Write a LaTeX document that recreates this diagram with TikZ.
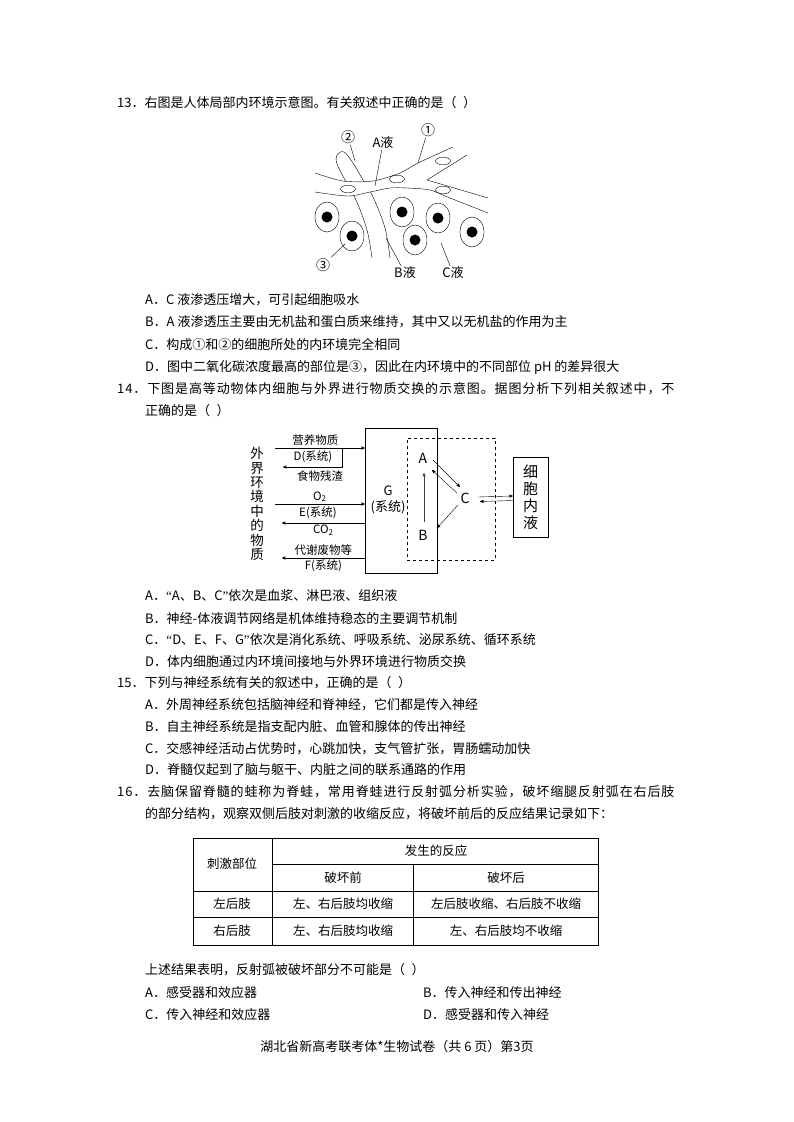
\documentclass[tikz,border=0pt]{standalone}
\usepackage{fontspec}
\setmainfont{Noto Sans CJK SC}
\newfontfamily\latq{Liberation Serif}
\usetikzlibrary{arrows,positioning}
\newcommand{\openq}{{\latq “}}
\newcommand{\closeq}{{\latq ”}}
\newcommand{\blank}{（\hspace{0.5em}）}
\tikzset{>=stealth',line width=0.9pt}
\tikzset{
  line/.style={anchor=west,inner sep=0pt,font=\fontsize{13}{15}\selectfont},
  fullline/.style={line,font=\fontsize{13}{15}\selectfont\addfontfeatures{LetterSpace=6.9}},
  lbl/.style={inner sep=1pt,font=\fontsize{13}{15}\selectfont},
  small/.style={inner sep=1pt,font=\fontsize{11.5}{13}\selectfont},
  cellt/.style={inner sep=0pt,font=\fontsize{12.5}{14}\selectfont}
}

\begin{document}
\begin{tikzpicture}[x=1pt,y=-1pt]
  \fill[white] (0,0) rectangle (794,1122);
  \useasboundingbox (0,0) rectangle (794,1122);

  % question 13
  \node[line] (q13) at (117,103) {13．右图是人体局部内环境示意图。有关叙述中正确的是\blank};

  % lymph vessel
  \draw plot[smooth,tension=0.6] coordinates {(372,258) (367,230) (356,200) (345,180) (337,164) (337,155) (344,152) (353,163) (363,180) (373,197) (385,228) (390,258)};
  % capillary
  \fill[white] plot[smooth] coordinates {(315,173) (343,181) (373,181) (400,173) (418,163) (453,147)}
    -- (467,155) -- (427,180) -- (488,198) -- (488,213)
    -- plot[smooth] coordinates {(450,198) (430,190) (407,188) (390,188) (370,192) (348,196) (315,192)} -- cycle;
  \draw plot[smooth] coordinates {(315,173) (343,181) (373,181) (400,173) (418,163) (453,147)};
  \draw plot[smooth] coordinates {(315,192) (348,196) (370,192) (390,188) (407,188) (430,190) (450,198) (488,213)};
  \draw (467,155) -- (427,180) -- (488,198);
  \foreach \x/\y in {348/189, 397/179, 443/161, 443/190}
    \draw (\x,\y) ellipse (7.5pt and 3.8pt);
  % tissue cells
  \foreach \x/\y in {327/217, 352/236, 402/212, 415/240, 438/218, 472/232} {
    \draw[fill=white] (\x,\y) ellipse (12pt and 15pt);
    \fill (\x,\y) circle (5.5pt);
  }

  \node[lbl,font=\fontsize{14}{16}\selectfont] (n1) at (428,130) {①};
  \node[lbl,font=\fontsize{14}{16}\selectfont] (n2) at (348,137) {②};
  \node[lbl] (la) at (383,143) {A液};
  \node[lbl,font=\fontsize{14}{16}\selectfont] (n3) at (323,265) {③};
  \node[lbl] (lb) at (405,273) {B液};
  \node[lbl] (lc) at (453,273) {C液};
  \coordinate (p1) at (418,163);
  \coordinate (p2) at (355,161);
  \coordinate (pa) at (375,186);
  \coordinate (p3) at (345,244);
  \coordinate (pb) at (386,238);
  \coordinate (pc) at (441,243);
  \draw (n1) -- (p1);
  \draw (n2) -- (p2);
  \draw (la) -- (pa);
  \draw (n3) -- (p3);
  \draw (lb) -- (pb);
  \draw (lc) -- (pc);

  \node[line] (a13) at (145,300) {A．C 液渗透压增大，可引起细胞吸水};
  \node[line] (b13) at (145,322) {B．A 液渗透压主要由无机盐和蛋白质来维持，其中又以无机盐的作用为主};
  \node[line] (c13) at (145,345) {C．构成①和②的细胞所处的内环境完全相同};
  \node[line] (d13) at (145,367) {D．图中二氧化碳浓度最高的部位是③，因此在内环境中的不同部位 pH 的差异很大};

  % question 14
  \node[fullline] (q14) at (117,389) {14．下图是高等动物体内细胞与外界进行物质交换的示意图。据图分析下列相关叙述中，不};
  \node[line] (q14b) at (145,411) {正确的是\blank};

  \node[draw,minimum width=72pt,minimum height=145pt,inner sep=0pt] (G) at (401,500.5) {};
  \node[lbl,align=center,font=\fontsize{13}{16}\selectfont] (Gt) at (388,500) {G\\(系统)};
  \node[draw,dashed,minimum width=88pt,minimum height=122pt,inner sep=0pt] (env) at (451,499) {};
  \node[draw,minimum width=35pt,minimum height=80pt,inner sep=0pt,align=center,font=\fontsize{15}{17}\selectfont] (icf) at (530.5,497) {细\\胞\\内\\液};
  \node[lbl,align=center,font=\fontsize{13.5}{14.4}\selectfont] (ext) at (257,504) {外\\界\\环\\境\\中\\的\\物\\质};

  \node[lbl,font=\fontsize{14}{16}\selectfont] (A) at (423,458) {A};
  \node[lbl,font=\fontsize{14}{16}\selectfont] (B) at (423,535) {B};
  \node[lbl,font=\fontsize{14}{16}\selectfont] (C) at (465,498) {C};
  \draw[->,black!75] ([shift={(1,-13)}]B.center) -- ([shift={(1,15)}]A.center);
  \draw[->] ([shift={(10,2)}]A.center) -- ([shift={(-5,-11)}]C.center);
  \draw[->] ([shift={(-8,-5)}]C.center) -- ([shift={(9,12)}]A.center);
  \draw[->] ([shift={(-7,7)}]C.center) -- ([shift={(14,-7)}]B.center);
  \draw[->] ([shift={(13,-1)}]C.center) -- ([shift={(0,-1)}]icf.west);
  \draw[->] ([shift={(0,3.5)}]icf.west) -- ([shift={(15,3.5)}]C.center);

  \coordinate (nut) at (275,448);
  \coordinate (dTop) at (342,448);
  \coordinate (dEnd) at (283,467);
  \coordinate (o2) at (275,504);
  \coordinate (co2) at (282,523);
  \coordinate (wst) at (282,558);
  \draw[->] (nut) -- (nut -| G.west) node[small,pos=0.45,above=1pt] {营养物质};
  \draw[->] (dTop) |- (dEnd);
  \node[small] (dLab) at (313,457) {D(系统)};
  \node[small] (res) at (320,476) {食物残渣};
  \draw[->] (o2) -- (o2 -| G.west) node[small,midway,above=1pt] {O\textsubscript{2}};
  \node[small] (eLab) at (318,513) {E(系统)};
  \draw[->] (co2 -| G.west) -- (co2) node[small,midway,below=1pt] {CO\textsubscript{2}};
  \draw[->] (wst -| G.west) -- (wst)
    node[small,midway,above=1pt] {代谢废物等}
    node[small,midway,below=1pt] {F(系统)};

  \node[line] (a14) at (145,596) {A．\openq A、B、C\closeq 依次是血浆、淋巴液、组织液};
  \node[line] (b14) at (145,618) {B．神经-体液调节网络是机体维持稳态的主要调节机制};
  \node[line] (c14) at (145,640) {C．\openq D、E、F、G\closeq 依次是消化系统、呼吸系统、泌尿系统、循环系统};
  \node[line] (d14) at (145,662) {D．体内细胞通过内环境间接地与外界环境进行物质交换};

  % question 15
  \node[line] (q15) at (117,683) {15．下列与神经系统有关的叙述中，正确的是\blank};
  \node[line] (a15) at (145,705) {A．外周神经系统包括脑神经和脊神经，它们都是传入神经};
  \node[line] (b15) at (145,727) {B．自主神经系统是指支配内脏、血管和腺体的传出神经};
  \node[line] (c15) at (145,749) {C．交感神经活动占优势时，心跳加快，支气管扩张，胃肠蠕动加快};
  \node[line] (d15) at (145,770) {D．脊髓仅起到了脑与躯干、内脏之间的联系通路的作用};

  % question 16
  \node[fullline] (q16) at (117,792) {16．去脑保留脊髓的蛙称为脊蛙，常用脊蛙进行反射弧分析实验，破坏缩腿反射弧在右后肢};
  \node[line] (q16b) at (145,814) {的部分结构，观察双侧后肢对刺激的收缩反应，将破坏前后的反应结果记录如下：};

  % table
  \draw[line width=1pt] (193,838) rectangle (598,945);
  \draw[line width=1pt] (272,838) -- (272,945);
  \draw[line width=1pt] (272,864) -- (598,864);
  \draw[line width=1pt] (193,891) -- (598,891);
  \draw[line width=1pt] (413,864) -- (413,945);
  \draw[line width=1pt] (193,917) -- (598,917);
  \node[cellt] (h1) at (232,864) {刺激部位};
  \node[cellt] (h2) at (436,851) {发生的反应};
  \node[cellt] (h3) at (343,878) {破坏前};
  \node[cellt] (h4) at (506,878) {破坏后};
  \node[cellt] (r1) at (232,904) {左后肢};
  \node[cellt] (r1a) at (343,904) {左、右后肢均收缩};
  \node[cellt] (r1b) at (506,904) {左后肢收缩、右后肢不收缩};
  \node[cellt] (r2) at (232,931) {右后肢};
  \node[cellt] (r2a) at (343,931) {左、右后肢均收缩};
  \node[cellt] (r2b) at (506,931) {左、右后肢均不收缩};

  \node[line] (q16c) at (145,970) {上述结果表明，反射弧被破坏部分不可能是\blank};
  \node[line] (a16) at (145,993) {A．感受器和效应器};
  \node[line] (b16) at (423,993) {B．传入神经和传出神经};
  \node[line] (c16) at (145,1015) {C．传入神经和效应器};
  \node[line] (d16) at (423,1015) {D．感受器和传入神经};

  \node[lbl] (foot) at (397,1047) {湖北省新高考联考体*生物试卷（共 6 页）第3页};
\end{tikzpicture}
\end{document}
